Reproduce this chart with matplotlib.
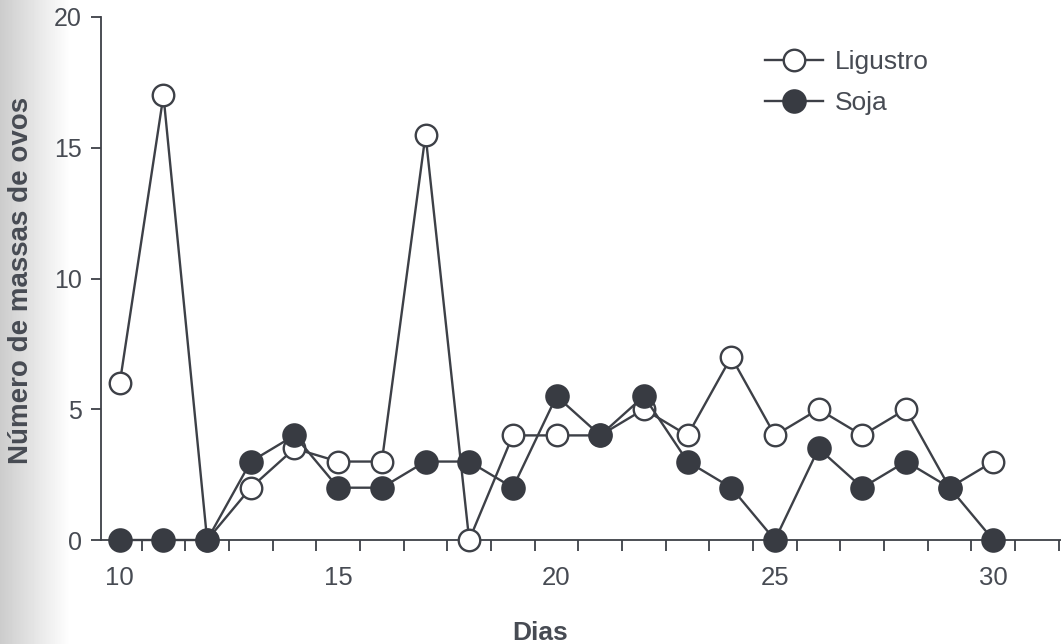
import numpy as np
import matplotlib
matplotlib.use("Agg")
import matplotlib.pyplot as plt
from matplotlib.ticker import FixedLocator

plt.rcParams['font.family'] = ['Liberation Sans', 'DejaVu Sans']

dias = [10, 11, 12, 13, 14, 15, 16, 17, 18, 19, 20, 21, 22, 23, 24, 25, 26, 27, 28, 29, 30]
ligustro = [6, 17, 0, 2, 3.5, 3, 3, 15.5, 0, 4, 4, 4, 5, 4, 7, 4, 5, 4, 5, 2, 3]
soja = [0, 0, 0, 3, 4, 2, 2, 3, 3, 2, 5.5, 4, 5.5, 3, 2, 0, 3.5, 2, 3, 2, 0]
x_tick_labels = [10, 15, 20, 25, 30]
y_ticks = [0, 5, 10, 15, 20]

W, H = 1061, 644
fig = plt.figure(figsize=(W / 100, H / 100), dpi=100)

# faint scan shading at the left edge
bg = fig.add_axes([0, 0, 1, 1], zorder=-5)
xs = np.arange(W)
shade = np.clip(0.80 + 0.20 * (xs / 70.0), 0, 1)
bg.imshow(np.tile(shade, (2, 1)), cmap='gray', vmin=0, vmax=1, aspect='auto',
          extent=[0, W, 0, 1])
bg.set_xlim(0, W)
bg.set_ylim(0, 1)
bg.axis('off')

ax = fig.add_axes([101 / W, (H - 540) / H, 1 - 101 / W, (540 - 17) / H])
ax.patch.set_alpha(0)

line_c = '#3d4047'
fill_c = '#383b42'
text_c = '#474b53'

ax.plot(dias, ligustro, '-o', color=line_c, lw=1.7, ms=15.5,
        mfc='white', mec=line_c, mew=1.7, clip_on=False, zorder=3, label='Ligustro')
ax.plot(dias, soja, '-o', color=line_c, lw=1.7, ms=16,
        mfc=fill_c, mec=fill_c, mew=1.7, clip_on=False, zorder=4, label='Soja')

ax.set_xlim(9.57, 31.55)
ax.set_ylim(0, 20)

for s in ['top', 'right']:
    ax.spines[s].set_visible(False)
for s in ['left', 'bottom']:
    ax.spines[s].set_color(line_c)
    ax.spines[s].set_linewidth(1.3)

ax.set_xticks(x_tick_labels)
ax.set_xticklabels([str(v) for v in x_tick_labels])
ax.xaxis.set_minor_locator(FixedLocator([d + 0.5 for d in range(10, 32)]))
ax.tick_params(axis='x', which='major', length=0, pad=19, labelsize=18.5, labelcolor=text_c)
ax.tick_params(axis='x', which='minor', length=8, width=1.3, color=line_c, direction='out')
ax.set_yticks(y_ticks)
ax.tick_params(axis='y', which='major', length=7, width=1.3, color=line_c, pad=7,
               labelsize=18, labelcolor=text_c)

fig.text(28 / W, (H - 280) / H, 'Número de massas de ovos', fontsize=20, fontweight='bold',
         color=text_c, rotation=90, rotation_mode='anchor', ha='center', va='baseline')
fig.text(540 / W, (H - 633) / H, 'Dias', fontsize=19, fontweight='bold', color=text_c,
         ha='center', va='center')

leg = ax.legend(loc='upper left', bbox_to_anchor=(765 / W, (H - 50) / H),
                bbox_transform=fig.transFigure, frameon=False, fontsize=19,
                handlelength=2.2, handletextpad=0.45, labelspacing=0.65, borderpad=0,
                borderaxespad=0, labelcolor=text_c)

fig.savefig('out.png', dpi=100)
